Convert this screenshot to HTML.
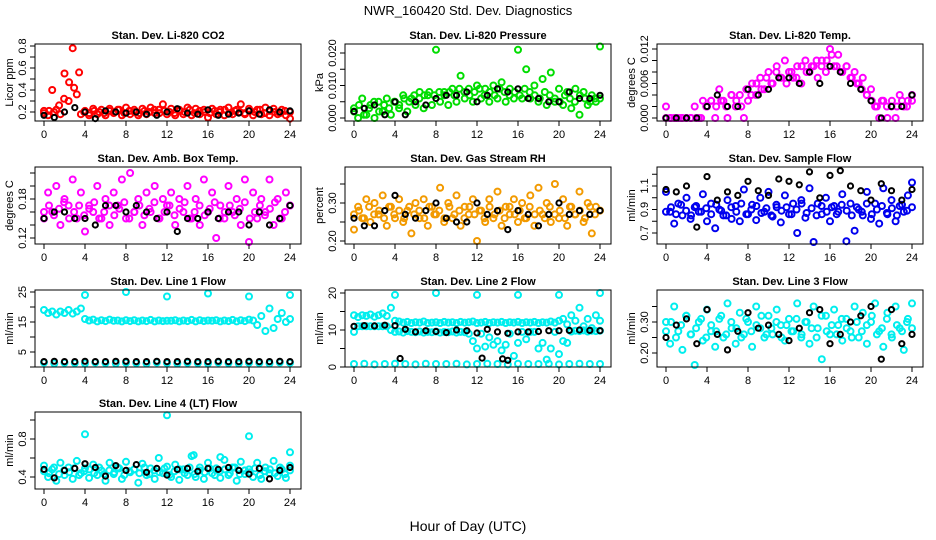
<!DOCTYPE html>
<html><head><meta charset="utf-8"><style>
body{margin:0;background:#fff;}
svg{display:block;font-family:"Liberation Sans",sans-serif;}
</style></head><body>
<svg id="c" width="936" height="540" viewBox="0 0 936 540">
<text x="468" y="15" text-anchor="middle" font-size="13">NWR_160420  Std. Dev. Diagnostics</text>
<text x="468" y="531" text-anchor="middle" font-size="14">Hour of Day (UTC)</text>
</svg>
<script>
// ---- data ----
const xTicks=[0,4,8,12,16,20,24];
const co2=[0.21,0.17,0.40,0.22,0.18,0.55,0.30,0.78,0.36,0.18,0.21,0.17,0.23,0.18,0.22,0.17,0.23,0.19,0.22,0.17,0.24,0.18,0.22,0.17,0.23,0.18,0.24,0.19,0.22,0.27,0.18,0.23,0.17,0.22,0.18,0.24,0.17,0.23,0.18,0.22,0.15,0.23,0.18,0.22,0.17,0.24,0.18,0.22,0.27,0.18,0.23,0.17,0.22,0.18,0.24,0.17,0.23,0.18,0.22,0.17,0.14];
const co2B=[0.19,0.21,0.20,0.26,0.32,0.47,0.42,0.56,0.20,0.19,0.21,0.20,0.19,0.21,0.20,0.22,0.19,0.21,0.20,0.19,0.21,0.20,0.22,0.19,0.21,0.20,0.19,0.21,0.20,0.22,0.19,0.21,0.20,0.19,0.21,0.20,0.22,0.19,0.21,0.20,0.19,0.21,0.20,0.22,0.19,0.21,0.20,0.19,0.21,0.20];
const co2Black=[0.17,0.15,0.20,0.24,0.20,0.14,0.21,0.20,0.19,0.20,0.18,0.17,0.20,0.23,0.19,0.18,0.22,0.17,0.18,0.19,0.21,0.18,0.22,0.20,0.21];
const pres=[0.003,0.000,0.006,0.001,0.004,0.000,0.005,0.002,0.006,0.001,0.005,0.003,0.007,0.002,0.006,0.004,0.008,0.003,0.007,0.004,0.021,0.005,0.008,0.004,0.009,0.005,0.013,0.006,0.009,0.005,0.010,0.006,0.009,0.005,0.010,0.006,0.011,0.005,0.009,0.006,0.021,0.006,0.015,0.006,0.010,0.005,0.012,0.004,0.014,0.005,0.009,0.004,0.008,0.003,0.009,0.001,0.008,0.004,0.007,0.005,0.022];
const presB=[0.002,0.004,0.001,0.003,0.005,0.002,0.004,0.003,0.005,0.004,0.006,0.005,0.007,0.006,0.007,0.008,0.007,0.008,0.007,0.008,0.007,0.009,0.008,0.007,0.008,0.009,0.007,0.008,0.007,0.009,0.008,0.007,0.008,0.007,0.009,0.008,0.007,0.006,0.008,0.007,0.006,0.005,0.007,0.006,0.005,0.007,0.006,0.005,0.006,0.006];
const presBlack=[0.002,0.003,0.004,0.001,0.005,0.001,0.005,0.004,0.006,0.007,0.007,0.008,0.005,0.007,0.009,0.008,0.009,0.006,0.006,0.005,0.005,0.008,0.006,0.006,0.007];
const temp=[0.002,0,0,0,0,0,0,0.002,0,0.003,0.002,0.003,0,0.005,0.003,0,0.004,0.002,0.004,0,0.003,0.006,0.004,0.007,0.005,0.008,0.006,0.009,0.007,0.010,0.008,0.007,0.009,0.006,0.010,0.008,0.009,0.007,0.010,0.008,0.012,0.009,0.011,0.008,0.009,0.007,0.008,0.006,0.007,0.004,0.005,0.002,0,0.003,0,0.002,0,0.004,0.002,0.003,0.004];
const tempB=[0,0,0,0,0,0,0,0,0.002,0.003,0.002,0.003,0.002,0.004,0.003,0.002,0.005,0.004,0.006,0.005,0.007,0.006,0.008,0.007,0.006,0.008,0.007,0.009,0.008,0.009,0.010,0.009,0.010,0.011,0.009,0.008,0.009,0.007,0.006,0.005,0.004,0.003,0.002,0.003,0.002,0.003,0.002,0.003,0.002,0.003];
const tempBlack=[0,0,0,0,0.002,0.004,0.002,0.002,0.005,0.004,0.005,0.007,0.007,0.006,0.008,0.006,0.009,0.008,0.006,0.005,0.003,0,0.002,0.002,0.004];
const amb=[0.15,0.19,0.16,0.20,0.14,0.18,0.17,0.21,0.15,0.19,0.13,0.17,0.16,0.20,0.15,0.18,0.14,0.19,0.17,0.21,0.15,0.22,0.16,0.18,0.14,0.19,0.16,0.20,0.15,0.18,0.17,0.19,0.14,0.18,0.16,0.20,0.15,0.18,0.14,0.21,0.16,0.19,0.12,0.17,0.15,0.20,0.16,0.18,0.14,0.21,0.11,0.19,0.15,0.18,0.16,0.21,0.14,0.18,0.15,0.19,0.17];
const ambB=[0.16,0.17,0.155,0.165,0.175,0.15,0.16,0.17,0.155,0.165,0.175,0.15,0.16,0.17,0.155,0.165,0.175,0.15,0.16,0.17,0.155,0.165,0.175,0.15,0.16,0.17,0.155,0.165,0.175,0.15,0.16,0.17,0.155,0.165,0.175,0.15,0.16,0.17,0.155,0.165,0.175,0.15,0.16,0.17,0.155,0.165,0.175,0.15,0.16,0.17];
const ambBlack=[0.15,0.16,0.16,0.15,0.15,0.14,0.17,0.17,0.16,0.17,0.16,0.15,0.16,0.13,0.15,0.15,0.16,0.15,0.16,0.16,0.14,0.16,0.14,0.15,0.17];
const rh=[0.23,0.29,0.26,0.31,0.25,0.30,0.27,0.32,0.24,0.29,0.26,0.31,0.25,0.28,0.22,0.30,0.26,0.31,0.24,0.29,0.27,0.34,0.25,0.30,0.26,0.32,0.24,0.29,0.27,0.31,0.20,0.28,0.25,0.31,0.26,0.33,0.24,0.29,0.27,0.31,0.25,0.30,0.26,0.32,0.24,0.34,0.27,0.30,0.25,0.35,0.26,0.31,0.24,0.29,0.27,0.33,0.25,0.30,0.22,0.29,0.28];
const rhB=[0.27,0.28,0.26,0.29,0.27,0.28,0.26,0.29,0.27,0.28,0.26,0.29,0.27,0.28,0.26,0.29,0.27,0.28,0.26,0.29,0.27,0.28,0.26,0.29,0.27,0.28,0.26,0.29,0.27,0.28,0.26,0.29,0.27,0.28,0.26,0.29,0.27,0.28,0.26,0.29,0.27,0.28,0.26,0.29,0.27,0.28,0.26,0.29,0.27,0.28];
const rhBlack=[0.26,0.24,0.24,0.28,0.32,0.27,0.26,0.28,0.30,0.26,0.25,0.25,0.30,0.27,0.28,0.23,0.28,0.27,0.24,0.27,0.30,0.27,0.28,0.27,0.28];
const flow=[1.05,0.88,0.78,0.95,0.85,1.00,0.82,0.92,0.88,1.03,0.80,0.95,0.74,0.90,0.85,0.98,0.82,0.93,0.80,1.07,0.86,0.94,0.81,1.00,0.88,1.05,0.84,0.92,0.79,1.02,0.86,0.95,0.70,0.98,0.83,1.08,0.62,0.95,0.86,1.00,0.80,0.93,0.88,1.03,0.63,0.95,0.72,0.90,0.85,1.05,0.82,0.95,0.78,1.08,0.86,0.98,0.80,0.93,0.88,1.02,1.13];
const flowB=[0.88,0.92,0.86,0.94,0.89,0.85,0.93,0.88,0.91,0.86,0.94,0.89,0.85,0.92,0.88,0.95,0.86,0.90,0.93,0.87,0.91,0.85,0.94,0.89,0.92,0.86,0.90,0.95,0.87,0.91,0.85,0.93,0.88,0.92,0.86,0.94,0.89,0.85,0.92,0.88,0.95,0.86,0.90,0.93,0.87,0.91,0.85,0.94,0.89,0.92];
const flowBlack=[1.07,1.05,1.10,0.75,1.18,0.98,1.05,1.02,1.14,1.06,1.02,1.16,1.14,1.11,1.22,1.00,1.19,1.23,1.10,1.06,0.98,1.12,1.06,0.98,1.07];
const line1High=[19,18,18.5,17.5,18.5,18,19,17.8,18.5,19.5,16,15.5,15.8,15.2,15.6,15.3,15.8,15.4,15.5,15.2,15.6,15.3,15.6,15.2,15.5,15.3,15.7,15.2,15.5,15.3,15.4,15.4,15.6,15.2,15.5,15.3,15.7,15.2,15.6,15.3,15.5,15.4,15.6,15.2,15.5,15.3,15.7,15.2,15.6,15.3,15.8,15.5,14,17,12,19.5,13,16,18,15,16];
const line1Low=[1.5,1.2,1.4,1.3,1.2,1.5,1.3,1.2,1.4,1.3,1.2,1.5,1.3,1.2,1.4,1.3,1.2,1.5,1.3,1.2,1.4,1.3,1.2,1.5,1.4];
const line1OutHours=[4,8,12,16,20,24];
const line1OutVals=[24,25,23.5,24.5,23.5,24];
const line1Black=[1.8,1.9,1.8,1.8,1.9,1.8,1.8,1.9,1.9,1.8,1.8,1.9,1.8,1.8,1.9,1.8,1.8,1.9,1.8,1.8,1.9,1.8,1.8,1.9,1.8];
const line2High=[14,13.5,14,13.8,14.2,13.6,14,14.5,13.8,16,12.5,12.3,12,12.2,11.9,12.1,12,12.3,11.9,12,12.1,11.9,12.2,12,12.1,11.9,12.2,12,12.1,12.3,11.9,12,12.2,11.9,12.1,12,12.2,11.9,12.1,12,12.2,11.9,12.1,12,12.2,11.9,12.1,12,12.3,12,12.5,13,11.5,14,12.5,16,11,13,10.5,14,12.5];
const line2Mid=[9.5,11,11,11,11,11,11,11,11,10,9.5,9.6,9.3,9.7,9.5,9.4,9.6,9.3,9.5,9.4,9.6,9.3,9.5,9.4,9.6,9.3,9.5,9.4,9,7,5,9,5.5,8,6,7,4.5,6,9,3,6.5,9.5,7.5,9.5,9.5,5,6.5,2,5,9.5,3.5,7,6.5,9.6,9.8,9.7,9.9,9.6,9.8,9.7,9.8];
const line2Low=[0.8,0.9,0.7,0.8,0.9,0.8,0.7,0.9,0.8,0.8,0.9,0.7,0.8,0.9,0.8,0.7,0.9,0.8,0.8,0.9,0.7,0.8,0.9,0.8,0.8];
const line2OutHours=[4,8,12,16,20,24];
const line2OutVals=[19.5,20,19.5,19.5,19.5,20];
const line2Black=[11,11.2,11.1,11.3,11.2,10.2,9.5,9.8,9.6,9.3,10,9.8,9.2,10.2,9.5,9.1,9.5,9.5,9.6,9.8,9.8,9.9,10,9.9,9.8];
const line2BlackOutHours=[4.5,12.5,14.5,15];
const line2BlackOutVals=[2.3,2.4,2.2,1.8];
const line3=[0.30,0.23,0.35,0.27,0.21,0.32,0.26,0.16,0.30,0.24,0.34,0.27,0.22,0.31,0.25,0.36,0.28,0.23,0.33,0.26,0.30,0.22,0.35,0.28,0.25,0.32,0.26,0.34,0.29,0.24,0.31,0.27,0.36,0.25,0.30,0.23,0.35,0.28,0.18,0.32,0.26,0.34,0.29,0.24,0.31,0.27,0.35,0.25,0.33,0.23,0.30,0.36,0.27,0.22,0.33,0.26,0.35,0.28,0.21,0.31,0.36];
const line3B=[0.27,0.30,0.25,0.29,0.32,0.26,0.28,0.31,0.25,0.29,0.27,0.32,0.26,0.30,0.28,0.25,0.31,0.27,0.29,0.32,0.26,0.28,0.30,0.25,0.29,0.27,0.31,0.26,0.30,0.28,0.25,0.32,0.27,0.29,0.26,0.31,0.28,0.25,0.30,0.27,0.29,0.32,0.26,0.28,0.31,0.25,0.29,0.27,0.30,0.28];
const line3Black=[0.25,0.29,0.31,0.23,0.34,0.26,0.21,0.27,0.33,0.28,0.29,0.26,0.24,0.28,0.33,0.34,0.23,0.26,0.30,0.32,0.35,0.18,0.34,0.23,0.26];
const line4=[0.52,0.40,0.48,0.36,0.55,0.42,0.50,0.38,0.57,0.44,0.49,0.39,0.53,0.42,0.47,0.36,0.55,0.43,0.50,0.38,0.56,0.45,0.48,0.34,0.54,0.42,0.49,0.38,0.60,0.44,0.51,0.40,0.53,0.37,0.48,0.42,0.62,0.40,0.50,0.38,0.55,0.44,0.49,0.39,0.58,0.42,0.50,0.36,0.56,0.43,0.48,0.40,0.55,0.38,0.50,0.44,0.57,0.41,0.48,0.39,0.52];
const line4B=[0.46,0.44,0.50,0.43,0.47,0.45,0.49,0.42,0.46,0.48,0.44,0.50,0.43,0.47,0.45,0.49,0.42,0.46,0.48,0.44,0.50,0.43,0.47,0.45,0.49,0.42,0.46,0.48,0.44,0.50,0.43,0.47,0.45,0.49,0.42,0.46,0.48,0.44,0.50,0.43,0.47,0.45,0.49,0.42,0.46,0.48,0.44,0.50,0.43,0.47];
const line4OutHours=[4,12,20,24,14.6,17.2];
const line4OutVals=[0.85,1.05,0.83,0.66,0.63,0.61];
const line4Black=[0.48,0.39,0.47,0.49,0.54,0.50,0.41,0.52,0.47,0.53,0.45,0.49,0.42,0.48,0.49,0.46,0.49,0.48,0.50,0.47,0.43,0.49,0.38,0.47,0.50];

// ---- layout ----
const NS='http://www.w3.org/2000/svg';
const svg=document.getElementById('c');
const colLeft=[35,345,657], rowBottom=[121,244,367,489], FW=266, FH=77;
function mk(tag,attrs,parent){const e=document.createElementNS(NS,tag);for(const k in attrs)e.setAttribute(k,attrs[k]);(parent||svg).appendChild(e);return e;}
const idx=a=>a.map((v,i)=>i*24/(a.length-1));

const panels=[
 {t:'Stan. Dev. Li-820 CO2',yl:'Licor ppm',r:0,c:0,ya:[0.2,112],yb:[0.8,46],ticks:[0.2,0.3,0.4,0.5,0.6,0.7,0.8],labs:[0.2,0.4,0.6,0.8],dec:1,
  series:[{c:'#ff0000',y:co2},{c:'#ff0000',y:co2B},{c:'#000',y:co2Black}]},
 {t:'Stan. Dev. Li-820 Pressure',yl:'kPa',r:0,c:1,ya:[0,118],yb:[0.02,53],ticks:[0,0.005,0.01,0.015,0.02],labs:[0,0.01,0.02],dec:3,
  series:[{c:'#00dd00',y:pres},{c:'#00dd00',y:presB},{c:'#000',y:presBlack}]},
 {t:'Stan. Dev. Li-820 Temp.',yl:'degrees C',r:0,c:2,ya:[0,118],yb:[0.012,49],ticks:[0,0.002,0.004,0.006,0.008,0.01,0.012],labs:[0,0.006,0.012],dec:3,
  series:[{c:'#ff00ff',y:temp},{c:'#ff00ff',y:tempB},{c:'#000',y:tempBlack}]},
 {t:'Stan. Dev. Amb. Box Temp.',yl:'degrees C',r:1,c:0,ya:[0.12,238],yb:[0.18,199],ticks:[0.12,0.14,0.16,0.18,0.2,0.22],labs:[0.12,0.18],dec:2,
  series:[{c:'#ff00ff',y:amb},{c:'#ff00ff',y:ambB},{c:'#000',y:ambBlack}]},
 {t:'Stan. Dev. Gas Stream RH',yl:'percent',r:1,c:1,ya:[0.2,241],yb:[0.3,203],ticks:[0.2,0.25,0.3,0.35],labs:[0.2,0.3],dec:2,
  series:[{c:'#f29a00',y:rh},{c:'#f29a00',y:rhB},{c:'#000',y:rhBlack}]},
 {t:'Stan. Dev. Sample Flow',yl:'ml/min',r:1,c:2,ya:[0.7,233],yb:[1.1,186],ticks:[0.7,0.8,0.9,1.0,1.1,1.2],labs:[0.7,0.9,1.1],dec:1,
  series:[{c:'#0000ee',y:flow},{c:'#0000ee',y:flowB},{c:'#000',y:flowBlack}]},
 {t:'Stan. Dev. Line 1 Flow',yl:'ml/min',r:2,c:0,ya:[0,367],yb:[25,292],ticks:[0,5,10,15,20,25],labs:[5,15,25],dec:0,
  series:[{c:'#00eeee',y:line1High},{c:'#00eeee',y:line1Low},{c:'#00eeee',x:line1OutHours,y:line1OutVals},{c:'#000',y:line1Black}]},
 {t:'Stan. Dev. Line 2 Flow',yl:'ml/min',r:2,c:1,ya:[0,367],yb:[20,293],ticks:[0,5,10,15,20],labs:[0,10,20],dec:0,
  series:[{c:'#00eeee',y:line2High},{c:'#00eeee',y:line2Mid},{c:'#00eeee',y:line2Low},{c:'#00eeee',x:line2OutHours,y:line2OutVals},{c:'#000',y:line2Black},{c:'#000',x:line2BlackOutHours,y:line2BlackOutVals}]},
 {t:'Stan. Dev. Line 3 Flow',yl:'ml/min',r:2,c:2,ya:[0.2,353],yb:[0.3,322],ticks:[0.2,0.25,0.3,0.35],labs:[0.2,0.3],dec:2,
  series:[{c:'#00eeee',y:line3},{c:'#00eeee',y:line3B},{c:'#000',y:line3Black}]},
 {t:'Stan. Dev. Line 4 (LT) Flow',yl:'ml/min',r:3,c:0,ya:[0.4,477],yb:[0.8,439],ticks:[0.4,0.6,0.8,1.0],labs:[0.4,0.8],dec:1,
  series:[{c:'#00eeee',y:line4},{c:'#00eeee',y:line4B},{c:'#00eeee',x:line4OutHours,y:line4OutVals},{c:'#000',y:line4Black}]}
];

panels.forEach((p,pi)=>{
  const L=colLeft[p.c], B=rowBottom[p.r], T=B-FH;
  const g=mk('g',{});
  
  
  const xs=h=>L+9+h*(246/24);
  const ys=v=>p.ya[1]+(v-p.ya[0])*(p.yb[1]-p.ya[1])/(p.yb[0]-p.ya[0]);
  const pts=mk('g',{fill:'none','stroke-width':2},g);
  
  
  p.series.forEach(s=>{
    const hx=s.x||idx(s.y);
    const col=s.c==='#000';
    s.y.forEach((v,i)=>{
      const y=Math.max(T+2,Math.min(B-2,ys(v)));
      const ci=mk('circle',{cx:xs(hx[i]).toFixed(1),cy:y.toFixed(1),r:col?2.6:3,stroke:s.c},pts);
      
      
    });
  });
  const fr=mk('rect',{x:L,y:T,width:FW,height:FH,fill:'none',stroke:'#000','stroke-width':1},g);
  
  
  const tt=mk('text',{x:L+FW/2,y:T-5,'text-anchor':'middle','font-size':11,'font-weight':'bold'},g);
  tt.textContent=p.t;
  
  
  const xl=mk('text',{x:L-22,y:(T+B)/2,'text-anchor':'middle','font-size':11,transform:`rotate(-90 ${L-22} ${(T+B)/2})`},g);
  xl.textContent=p.yl;
  
  
  xTicks.forEach(h=>{
    const x=xs(h);
    mk('line',{x1:x,x2:x,y1:B,y2:B+5,stroke:'#000'},g);
    const t=mk('text',{x:x,y:B+17,'text-anchor':'middle','font-size':11},g);
    t.textContent=h;
    
    
  });
  p.ticks.forEach(v=>{
    const y=ys(v);
    mk('line',{x1:L,x2:L-5,y1:y,y2:y,stroke:'#000'},g);
  });
  p.labs.forEach(v=>{
    const y=ys(v), x=L-9;
    const t=mk('text',{x:x,y:y,'text-anchor':'middle','font-size':11,transform:`rotate(-90 ${x} ${y})`},g);
    t.textContent=v.toFixed(p.dec);
    
    
  });
});
</script>
</body></html>
